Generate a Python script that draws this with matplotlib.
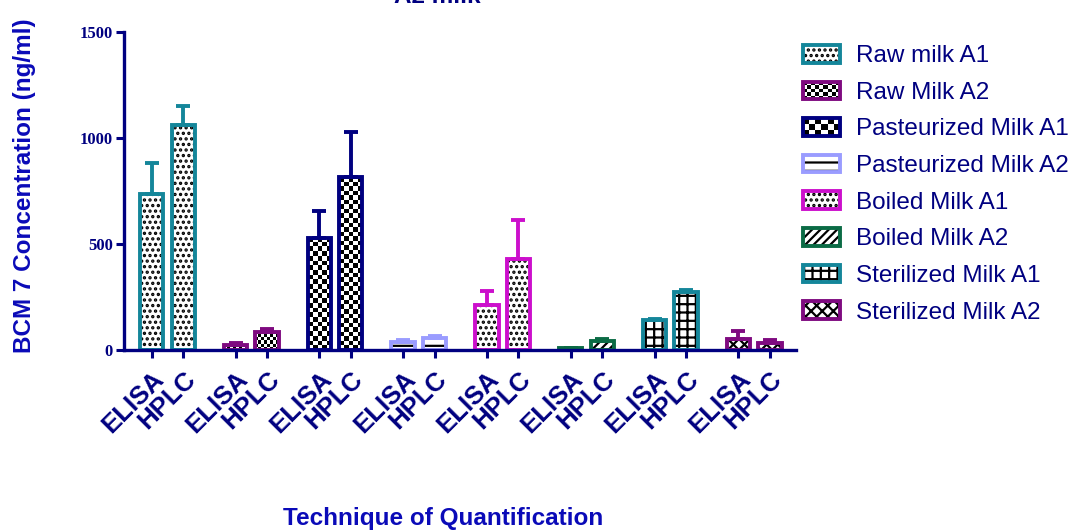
import matplotlib
matplotlib.use("Agg")
import matplotlib.pyplot as plt
import numpy as np
from matplotlib.patches import Rectangle
from matplotlib.legend_handler import HandlerBase, HandlerTuple

# BCM 7 levels (ng/ml) per milk sample, measured by ELISA and HPLC
samples = [
    "Raw milk A1", "Raw Milk A2", "Pasteurized Milk A1", "Pasteurized Milk A2",
    "Boiled Milk A1", "Boiled Milk A2", "Sterilized Milk A1", "Sterilized Milk A2",
]
techniques = ["ELISA", "HPLC"]
elisa_mean = [735, 25, 530, 38, 211, 8, 140, 50]
elisa_sd = [145, 8, 125, 8, 67, 3, 5, 40]
hplc_mean = [1060, 85, 815, 55, 431, 42, 272, 33]
hplc_sd = [90, 15, 215, 10, 182, 12, 10, 12]

colors = ["#14869a", "#7f0a80", "#000080", "#9a9cff",
          "#cc0fcc", "#0b6b45", "#14869a", "#7f0a80"]
# hatch string, or ("checker", cell px) for a checkerboard fill
fills = ["...", ("checker", 3.0), ("checker", 4.6), "--",
         "...", "////", "++", "xxx"]

NAVY = "#000080"
BLUE = "#0a0ab8"
plt.rcParams["font.family"] = ["Liberation Sans", "DejaVu Sans"]
plt.rcParams["hatch.linewidth"] = 1.6
plt.rcParams["hatch.color"] = "black"

fig = plt.figure(figsize=(10.77, 5.31), dpi=100)
ax = fig.add_axes([124 / 1077, 181 / 531, 672 / 1077, 318 / 531])

group_step = 2.66
bar_w = 0.74
xlim = (-0.88, 20.45)
ylim = (0, 1500)
px_x = 672 / (xlim[1] - xlim[0])
px_y = 318 / (ylim[1] - ylim[0])

tick_pos, tick_lab = [], []
for g, name in enumerate(samples):
    xs = [g * group_step, g * group_step + 1]
    vals = [elisa_mean[g], hplc_mean[g]]
    errs = [elisa_sd[g], hplc_sd[g]]
    fill = fills[g]
    for x, v, e in zip(xs, vals, errs):
        if isinstance(fill, tuple):
            base = ax.bar(x, v, bar_w, color="white", linewidth=0, zorder=1)[0]
            cell = fill[1]
            ncol = max(1, int(round(bar_w * px_x / cell)))
            nrow = max(1, int(round(v * px_y / cell)))
            board = (np.add.outer(np.arange(nrow), np.arange(ncol)) % 2).astype(float)
            im = ax.imshow(board, cmap="gray", extent=(x - bar_w / 2, x + bar_w / 2, 0, v),
                           aspect="auto", interpolation="nearest", zorder=1.5)
            im.set_clip_path(base)
        else:
            ax.bar(x, v, bar_w, facecolor="white", edgecolor="black", hatch=fill,
                   linewidth=0, zorder=1)
        ax.bar(x, v, bar_w, facecolor="none", edgecolor=colors[g], linewidth=2.8,
               zorder=2)
        ax.errorbar(x, v, yerr=[[0], [e]], fmt="none", ecolor=colors[g],
                    elinewidth=2.8, capsize=5, capthick=2.8, zorder=1.8)
    tick_pos += xs
    tick_lab += techniques

ax.set_xlim(*xlim)
ax.set_ylim(*ylim)
ax.set_yticks([0, 500, 1000, 1500])
ax.set_xticks(tick_pos)
ax.set_xticklabels(tick_lab, rotation=45, ha="right", va="top",
                   rotation_mode="anchor", fontsize=18.5, fontweight="bold", color=NAVY)
for lab in ax.get_yticklabels():
    lab.set_fontfamily(["Liberation Serif", "DejaVu Serif"])
    lab.set_fontweight("bold")
    lab.set_fontsize(12)
    lab.set_color(NAVY)
ax.tick_params(axis="both", colors=NAVY, width=2.2, length=6)
ax.tick_params(axis="x", pad=6)
ax.tick_params(axis="y", pad=2)
for side in ("top", "right"):
    ax.spines[side].set_visible(False)
for side in ("left", "bottom"):
    ax.spines[side].set_color(NAVY)
    ax.spines[side].set_linewidth(2.4)


class HandlerChecker(HandlerBase):
    def __init__(self, ncol, nrow, edge):
        super().__init__()
        self.ncol, self.nrow, self.edge = ncol, nrow, edge

    def create_artists(self, legend, orig_handle, xdescent, ydescent,
                       width, height, fontsize, trans):
        x0, y0 = -xdescent, -ydescent
        out = [Rectangle((x0, y0), width, height, facecolor="white",
                         edgecolor="none", transform=trans)]
        cw, ch = width / self.ncol, height / self.nrow
        for i in range(self.nrow):
            for j in range(self.ncol):
                if (i + j) % 2 == 0:
                    out.append(Rectangle((x0 + j * cw, y0 + i * ch), cw, ch,
                                         facecolor="black", edgecolor="none",
                                         transform=trans))
        out.append(Rectangle((x0, y0), width, height, facecolor="none",
                             edgecolor=self.edge, linewidth=2.8, transform=trans))
        return out


handles, handler_map = [], {}
for g, name in enumerate(samples):
    if isinstance(fills[g], tuple):
        h = Rectangle((0, 0), 1, 1, label=name)
        n = 9 if fills[g][1] < 4 else 6
        handler_map[h] = HandlerChecker(n, 3 if n == 6 else 5, colors[g])
    else:
        h = (Rectangle((0, 0), 1, 1, facecolor="white", edgecolor="black",
                       hatch=fills[g], linewidth=0),
             Rectangle((0, 0), 1, 1, facecolor="none", edgecolor=colors[g],
                       linewidth=2.8))
        handler_map[h] = HandlerTuple(ndivide=1)
    handles.append(h)

leg = fig.legend(handles, samples, handler_map=handler_map, loc="upper left",
                 bbox_to_anchor=(781 / 1077, 1 - 23 / 531), frameon=False,
                 fontsize=17.5, handlelength=1.52, handleheight=0.74,
                 labelspacing=0.59, handletextpad=0.66)
for t in leg.get_texts():
    t.set_color(NAVY)

fig.text(25 / 1077, 1 - 186 / 531, "BCM 7 Concentration (ng/ml)", rotation=90,
         ha="center", va="center", fontsize=17.5, fontweight="bold", color=BLUE)
fig.text(443 / 1077, 1 - 518 / 531, "Technique of Quantification",
         ha="center", va="center", fontsize=17.5, fontweight="bold", color=BLUE)
fig.text(437 / 1077, 1 - 3 / 531, "A2 milk", ha="center", va="baseline",
         fontsize=17.5, fontweight="bold", color=NAVY)

fig.savefig("out.png", dpi=100)
